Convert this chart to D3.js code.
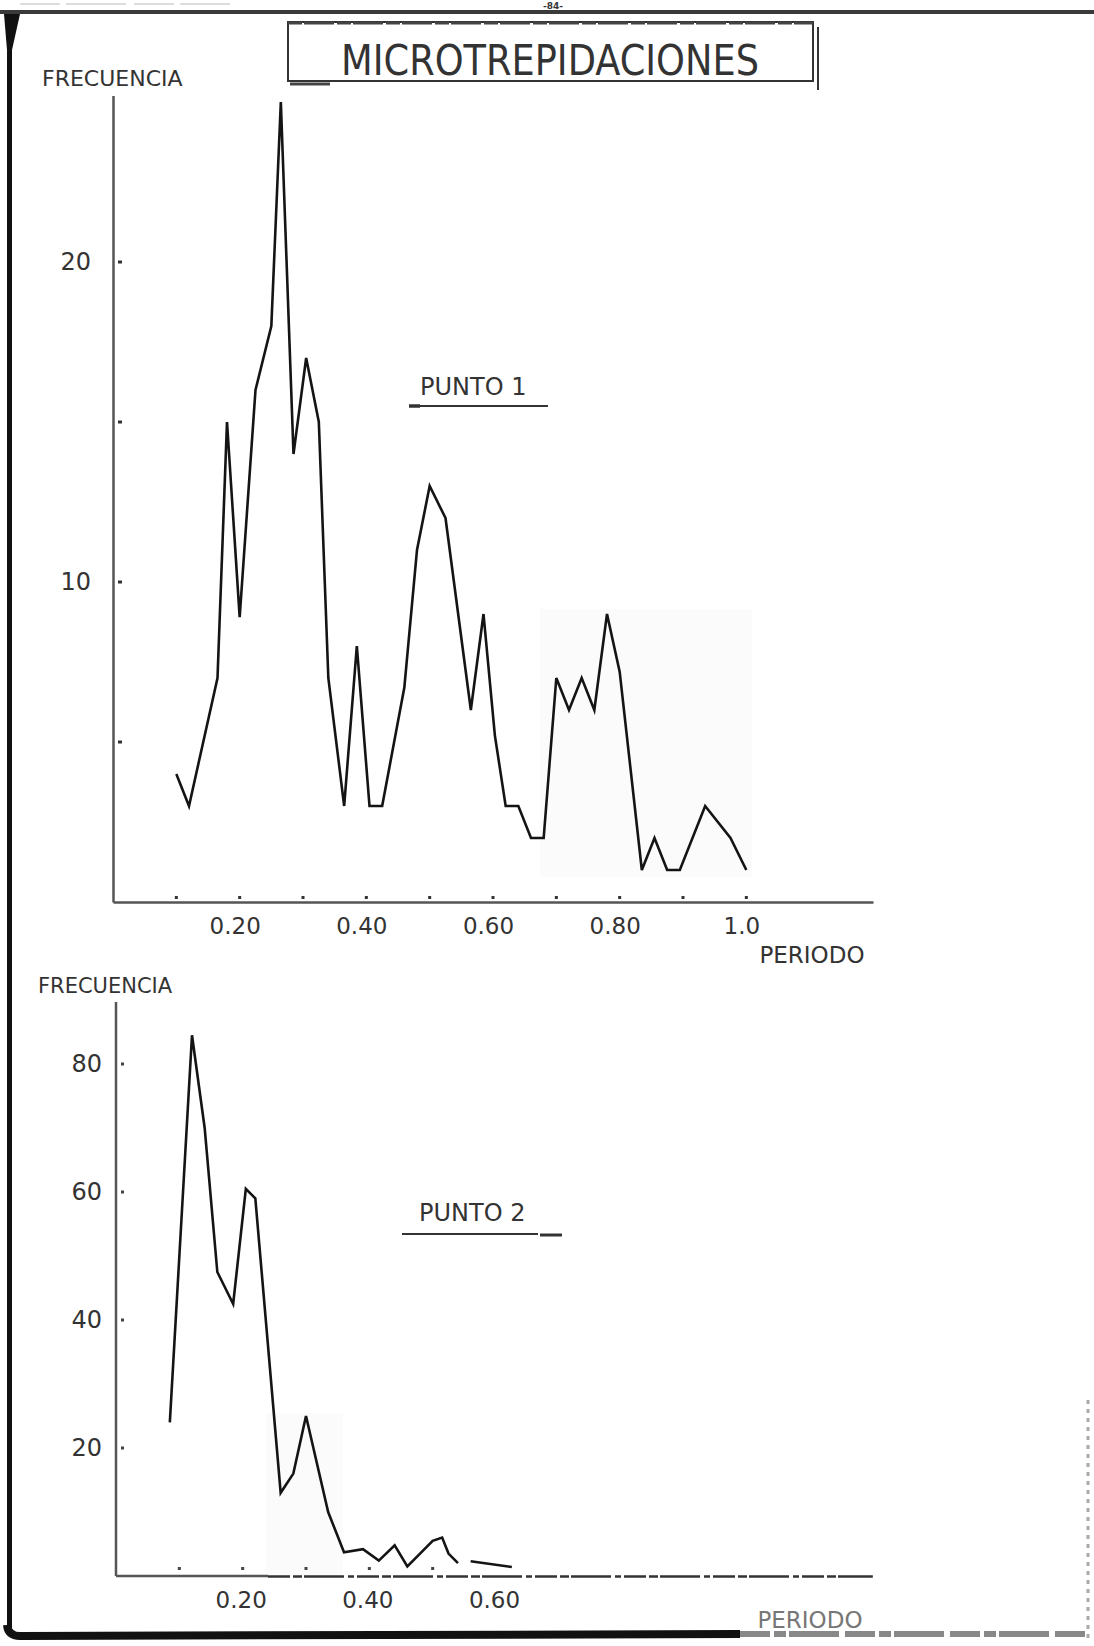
<!DOCTYPE html>
<html><head><meta charset="utf-8">
<script src="https://cdn.jsdelivr.net/npm/d3@7"></script>
<style>
body{margin:0;background:#fff}
svg{display:block}
text{font-family:"DejaVu Sans",sans-serif;fill:#333}
</style>
</head><body>
<svg id="c" width="1094" height="1646"></svg>
<script>
// ---------------- data ----------------
const title = "MICROTREPIDACIONES";
const yLabel = "FRECUENCIA";
const xLabel = "PERIODO";
const pageNumber = "-84-";
const p1Name = "PUNTO 1";
const p2Name = "PUNTO 2";

const p1Periodo    = [0.10,0.12,0.165,0.18,0.20,0.225,0.25,0.265,0.285,0.305,0.325,0.34,0.365,0.385,0.405,0.425,0.46,0.48,0.50,0.525,0.565,0.585,0.603,0.62,0.64,0.66,0.68,0.70,0.72,0.74,0.76,0.78,0.80,0.835,0.855,0.875,0.895,0.935,0.975,1.00];
const p1Frecuencia = [4,3,7,15,8.9,16,18,25,14,17,15,7,3,8,3,3,6.7,11,13,12,6,9,5.2,3,3,2,2,7,6,7,6,9,7.2,1,2,1,1,3,2,1];

const p2Periodo    = [0.085,0.12,0.14,0.16,0.185,0.205,0.22,0.26,0.28,0.30,0.335,0.36,0.39,0.415,0.44,0.46,0.50,0.515,0.525,0.54,0.55,0.56,0.625];
const p2Frecuencia = [24,84.5,70,47.5,42.5,60.5,59,13,16,25,10,3.7,4.2,2.4,4.8,1.5,5.5,6,3.5,2,null,2.3,1.4];

const p1XTickValues = [0.2,0.4,0.6,0.8,1.0];
const p1XTickLabels = ["0.20","0.40","0.60","0.80","1.0"];
const p1XMinor = [0.1,0.2,0.3,0.4,0.5,0.6,0.7,0.8,0.9,1.0];
const p1YTickValues = [10,20];
const p1YTickLabels = ["10","20"];
const p1YMinor = [5,10,15,20];

const p2XTickValues = [0.2,0.4,0.6];
const p2XTickLabels = ["0.20","0.40","0.60"];
const p2XMinor = [0.1,0.2,0.3,0.4,0.5];
const p2YTickValues = [20,40,60,80];
const p2YTickLabels = ["20","40","60","80"];
const p2YMinor = [20,40,60,80];

// ---------------- drawing ----------------
const svg = d3.select("#c");
svg.append("rect").attr("width",1094).attr("height",1646).attr("fill","#fff");

// page frame (scan borders)
svg.append("line").attr("x1",0).attr("x2",1094).attr("y1",12).attr("y2",12)
  .attr("stroke","#3a3a3a").attr("stroke-width",4);
svg.append("line").attr("x1",20).attr("x2",230).attr("y1",4).attr("y2",4)
  .attr("stroke","#ddd").attr("stroke-width",2).attr("stroke-dasharray","40,6,60,8");
svg.append("text").attr("x",553).attr("y",9).attr("text-anchor","middle")
  .style("font-size","9px").style("font-weight","bold").text(pageNumber);
svg.append("path").attr("d","M4,14 L20,14 L12,50 L12,1628 L7,1628 L7,50 Z").attr("fill","#111");
svg.append("path").attr("d","M7,1625 Q8,1636 20,1636 L740,1634")
  .attr("fill","none").attr("stroke","#111").attr("stroke-width",8);
svg.append("line").attr("x1",740).attr("x2",1085).attr("y1",1634).attr("y2",1634)
  .attr("stroke","#888").attr("stroke-width",6).attr("stroke-dasharray","30,4,12,3,50,6");
svg.append("line").attr("x1",1088).attr("x2",1088).attr("y1",1400).attr("y2",1640)
  .attr("stroke","#aaa").attr("stroke-width",3).attr("stroke-dasharray","4,5");

// title box
svg.append("rect").attr("x",288).attr("y",22).attr("width",525).attr("height",59)
  .attr("fill","none").attr("stroke","#333").attr("stroke-width",2);
svg.append("line").attr("x1",288).attr("x2",813).attr("y1",23).attr("y2",23)
  .attr("stroke","#444").attr("stroke-width",3).attr("stroke-dasharray","14,2,30,3");
svg.append("line").attr("x1",818).attr("x2",818).attr("y1",27).attr("y2",90)
  .attr("stroke","#333").attr("stroke-width",2);
svg.append("line").attr("x1",290).attr("x2",330).attr("y1",84).attr("y2",84)
  .attr("stroke","#444").attr("stroke-width",3);
svg.append("text").attr("x",550).attr("y",75).attr("text-anchor","middle")
  .attr("textLength",418).attr("lengthAdjust","spacingAndGlyphs")
  .style("font-family","'DejaVu Sans Condensed','Liberation Sans Narrow',sans-serif")
  .style("font-size","42px").text(title);

// faint scan patches
svg.append("rect").attr("x",540).attr("y",609).attr("width",212).attr("height",268).attr("fill","#fbfbfb");
svg.append("rect").attr("x",266).attr("y",1413).attr("width",77).attr("height",163).attr("fill","#fbfbfb");

const lineColor = "#141414";
const axisColor = "#555";

// ---------- chart 1 ----------
const x1 = d3.scaleLinear().domain([0,1.2]).range([113,873]);
const y1 = d3.scaleLinear().domain([0,25.2]).range([902,95.6]);

const g1 = svg.append("g");
const ax1 = g1.append("g").attr("transform",`translate(0,${y1(0)})`)
  .call(d3.axisBottom(x1).tickValues(p1XTickValues).tickFormat((d,i)=>p1XTickLabels[i]).tickSize(0).tickPadding(16));
ax1.select(".domain").attr("stroke",axisColor).attr("stroke-width",2.5);
ax1.selectAll("text").attr("dx",-5).style("font-size","23px").attr("fill","#333");
const ay1 = g1.append("g").attr("transform",`translate(${x1(0)},0)`)
  .call(d3.axisLeft(y1).tickValues(p1YTickValues).tickFormat((d,i)=>p1YTickLabels[i]).tickSize(0).tickPadding(22));
ay1.select(".domain").attr("stroke",axisColor).attr("stroke-width",2.5);
ay1.selectAll("text").style("font-size","24px").attr("fill","#333");
g1.selectAll(".xd").data(p1XMinor).join("rect").attr("class","xd")
  .attr("x",d=>x1(d)-1.5).attr("y",y1(0)-6).attr("width",3).attr("height",3).attr("fill","#333");
g1.selectAll(".yd").data(p1YMinor).join("rect").attr("class","yd")
  .attr("x",x1(0)+5).attr("y",d=>y1(d)-1.5).attr("width",4).attr("height",3).attr("fill","#333");

const line1 = d3.line().x((d,i)=>x1(p1Periodo[i])).y(d=>y1(d));
g1.append("path").datum(p1Frecuencia).attr("d",line1)
  .attr("fill","none").attr("stroke",lineColor).attr("stroke-width",2.6).attr("stroke-linejoin","miter");

g1.append("text").attr("x",42).attr("y",86).style("font-size","22px").text(yLabel);
g1.append("text").attr("x",812).attr("y",963).attr("text-anchor","middle").style("font-size","23px").text(xLabel);
g1.append("text").attr("x",420).attr("y",395).style("font-size","24px").text(p1Name);
g1.append("line").attr("x1",410).attr("x2",548).attr("y1",406).attr("y2",406)
  .attr("stroke","#333").attr("stroke-width",2);
g1.append("line").attr("x1",409).attr("x2",420).attr("y1",406).attr("y2",406)
  .attr("stroke","#333").attr("stroke-width",3.5);

// ---------- chart 2 ----------
const x2 = d3.scaleLinear().domain([0,1.2]).range([116,876]);
const y2 = d3.scaleLinear().domain([0,90]).range([1576,1000]);
const g2 = svg.append("g");
const ax2 = g2.append("g").attr("transform",`translate(0,${y2(0)})`)
  .call(d3.axisBottom(x2).tickValues(p2XTickValues).tickFormat((d,i)=>p2XTickLabels[i]).tickSize(0).tickPadding(16));
ax2.select(".domain").remove();
ax2.selectAll("text").attr("dx",-2).style("font-size","23px").attr("fill","#555");
g2.append("line").attr("x1",x2(0)).attr("x2",x2(0.24)).attr("y1",y2(0)).attr("y2",y2(0))
  .attr("stroke",axisColor).attr("stroke-width",2.5);
g2.append("line").attr("x1",x2(0.24)).attr("x2",x2(1.195)).attr("y1",y2(0)+0.5).attr("y2",y2(0)+0.5)
  .attr("stroke","#333").attr("stroke-width",2.5).attr("stroke-dasharray","22,3,9,2,40,4,6,3");
const ay2 = g2.append("g").attr("transform",`translate(${x2(0)},0)`)
  .call(d3.axisLeft(y2).tickValues(p2YTickValues).tickFormat((d,i)=>p2YTickLabels[i]).tickSize(0).tickPadding(14));
ay2.select(".domain").attr("stroke",axisColor).attr("stroke-width",2.5)
  .attr("d",`M0,${y2(0)}V${y2(89.7)}`);
ay2.selectAll("text").style("font-size","24px").attr("fill","#333");
g2.selectAll(".xd").data(p2XMinor).join("rect").attr("class","xd")
  .attr("x",d=>x2(d)-1.5).attr("y",y2(0)-9).attr("width",3).attr("height",3).attr("fill","#444");
g2.selectAll(".yd").data(p2YMinor).join("rect").attr("class","yd")
  .attr("x",x2(0)+5).attr("y",d=>y2(d)-1.5).attr("width",3).attr("height",3).attr("fill","#444");

const line2 = d3.line().defined(d=>d!==null).x((d,i)=>x2(p2Periodo[i])).y(d=>y2(d));
g2.append("path").datum(p2Frecuencia).attr("d",line2)
  .attr("fill","none").attr("stroke",lineColor).attr("stroke-width",2.6);

g2.append("text").attr("x",38).attr("y",993).style("font-size","21px").text(yLabel);
g2.append("text").attr("x",810).attr("y",1628).attr("text-anchor","middle").style("font-size","23px").style("fill","#777").text(xLabel);
g2.append("text").attr("x",419).attr("y",1221).style("font-size","24px").text(p2Name);
g2.append("line").attr("x1",402).attr("x2",538).attr("y1",1234).attr("y2",1234)
  .attr("stroke","#333").attr("stroke-width",2);
g2.append("line").attr("x1",540).attr("x2",562).attr("y1",1235).attr("y2",1235)
  .attr("stroke","#333").attr("stroke-width",3);
</script>
</body></html>
